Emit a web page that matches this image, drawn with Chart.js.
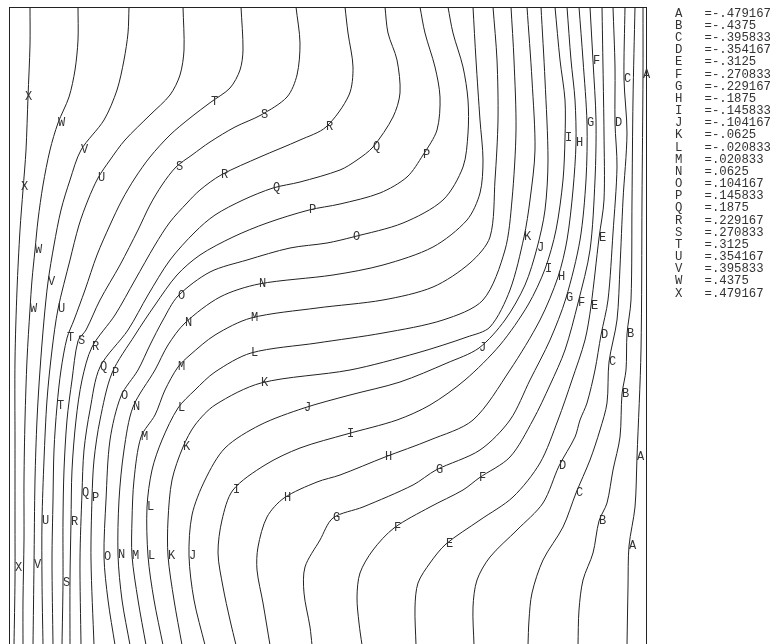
<!DOCTYPE html>
<html>
<head>
<meta charset="utf-8">
<script src="https://cdn.jsdelivr.net/npm/chart.js@4.4.1/dist/chart.umd.min.js"></script>
<style>
  html, body { margin: 0; padding: 0; background: #fff; overflow: hidden; }
  canvas { display: block; }
</style>
</head>
<body>
<canvas id="c" width="776" height="660"></canvas>
<script>
// Contour levels, lowest (A) to highest (X)
const levelLetters = ['A','B','C','D','E','F','G','H','I','J','K','L','M','N','O','P','Q','R','S','T','U','V','W','X'];
const levelValues = [-0.479167, -0.4375, -0.395833, -0.354167, -0.3125, -0.270833, -0.229167, -0.1875,
  -0.145833, -0.104167, -0.0625, -0.020833, 0.020833, 0.0625, 0.104167, 0.145833, 0.1875, 0.229167,
  0.270833, 0.3125, 0.354167, 0.395833, 0.4375, 0.479167];

// Grid extent (both axes), row coordinate grows downward
const gridMax = 63.8;

// Contour paths in grid units [x, y], traced from the top row to the bottom row
const contourA = [[63.4,0],[63.4,6.8],[63.3,19.3],[63.2,34.3],[62.8,45.0],[62.6,50.0],[62.0,53.9],[61.9,58.0],[61.8,63.8]];
const contourB = [[62.6,0],[62.4,9.3],[62.3,19.3],[62.2,29.3],[61.8,32.7],[61.7,36.3],[61.3,38.7],[61.1,43.0],[60.4,46.3],[59.8,49.6],[59.0,51.4],[58.4,54.6],[57.4,57.3],[57.0,60.3],[56.9,63.8]];
const contourC = [[61.6,0],[61.5,7.2],[61.8,12.6],[61.4,19.3],[61.1,26.0],[60.8,31.3],[60.0,35.5],[59.8,39.6],[59.1,42.3],[58.1,45.3],[56.7,48.6],[55.4,52.0],[53.4,55.3],[52.3,58.6],[52.0,61.3],[51.9,63.8]];
const contourD = [[60.4,0],[60.6,6.0],[60.6,11.6],[60.8,16.0],[60.4,22.6],[59.9,29.3],[59.2,32.8],[58.6,36.3],[57.8,39.6],[57.1,41.3],[56.6,43.0],[55.0,45.9],[53.4,49.6],[50.8,52.3],[48.1,55.0],[46.8,57.3],[46.4,60.0],[46.5,63.8]];
const contourE = [[59.3,0],[59.4,6.0],[59.5,12.6],[59.5,19.3],[59.0,23.1],[58.2,29.9],[57.6,33.3],[56.3,37.3],[54.9,41.3],[53.1,45.6],[50.4,49.0],[47.1,51.3],[43.7,53.7],[42.1,55.6],[40.9,57.6],[40.6,60.0],[40.7,63.8]];
const contourF = [[58.1,0],[58.4,5.4],[58.7,11.3],[58.6,17.3],[58.1,24.3],[56.9,29.6],[55.6,34.3],[54.1,37.8],[52.4,41.3],[50.1,45.0],[47.0,47.1],[45.4,48.3],[42.1,50.0],[38.5,52.1],[36.4,54.3],[35.1,56.6],[34.8,59.0],[35.0,61.6],[35.3,63.8]];
const contourG = [[57.0,0],[57.4,5.3],[57.8,11.6],[57.7,17.3],[57.1,23.3],[55.7,29.1],[54.1,33.3],[52.1,37.3],[50.1,41.3],[47.1,44.3],[42.7,46.3],[40.4,47.8],[35.4,50.0],[32.4,51.1],[31.1,53.3],[29.6,56.0],[29.5,58.6],[30.1,62.0],[30.3,63.8]];
const contourH = [[55.8,0],[56.2,5.3],[56.6,9.3],[56.7,13.6],[56.4,18.3],[55.8,23.3],[54.9,27.0],[53.1,31.3],[50.1,36.3],[46.4,41.3],[42.1,43.3],[37.6,45.0],[33.1,46.8],[30.8,47.5],[27.5,49.1],[25.8,51.0],[24.9,54.0],[24.8,56.3],[25.4,59.6],[26.1,63.8]];
const contourI = [[54.6,0],[55.1,5.3],[55.6,9.3],[55.6,13.1],[55.4,17.3],[54.7,22.3],[53.6,26.2],[51.9,29.8],[49.1,33.8],[45.6,37.3],[42.1,39.8],[38.8,41.3],[33.8,42.7],[29.1,44.1],[25.6,45.8],[22.4,48.3],[21.3,51.3],[20.9,54.6],[21.4,58.0],[22.1,61.3],[22.7,63.8]];
const contourJ = [[53.2,0],[53.6,7.3],[53.9,15.3],[53.6,20.3],[52.8,24.1],[51.6,27.8],[49.6,31.3],[47.0,34.1],[43.8,35.6],[39.1,37.5],[34.1,38.8],[29.5,40.1],[25.1,41.8],[21.6,44.1],[19.6,47.3],[18.3,50.8],[18.0,54.9],[18.5,59.3],[19.6,63.8]];
const contourK = [[51.8,0],[52.3,7.3],[52.6,14.3],[52.1,19.3],[51.5,23.0],[50.1,28.3],[48.1,32.0],[45.8,33.0],[40.8,34.6],[34.1,36.3],[25.2,37.6],[20.6,39.8],[18.6,41.8],[17.4,44.0],[16.3,47.3],[15.9,51.3],[15.9,54.9],[16.5,59.3],[17.3,63.8]];
const contourL = [[50.2,0],[50.5,5.3],[50.7,12.3],[50.3,19.3],[49.6,24.3],[47.4,29.3],[43.4,31.3],[37.4,32.6],[30.8,33.6],[24.2,34.6],[20.6,36.5],[18.6,38.3],[16.9,40.1],[15.3,43.3],[14.3,46.3],[13.8,50.0],[13.9,54.9],[14.5,59.3],[15.4,63.8]];
const contourM = [[48.4,0],[48.8,5.3],[48.9,11.3],[48.6,17.3],[48.1,23.0],[46.1,25.6],[42.4,28.0],[37.4,29.3],[30.8,30.1],[24.2,31.1],[20.6,32.8],[18.1,34.8],[16.9,36.0],[15.6,38.3],[14.6,40.8],[13.2,43.0],[12.5,47.3],[12.3,51.3],[12.3,54.9],[12.9,59.3],[13.7,63.8]];
const contourN = [[46.4,0],[46.7,5.3],[47.1,11.3],[47.4,15.3],[47.1,18.6],[45.8,21.3],[42.4,24.0],[37.4,25.8],[32.4,26.8],[25.0,27.7],[21.1,29.0],[17.6,31.6],[15.9,33.8],[14.6,36.3],[12.4,40.0],[11.5,44.3],[11.0,49.3],[10.9,54.8],[11.3,59.3],[12.1,63.8]];
const contourO = [[43.9,0],[44.4,2.6],[45.4,6.0],[45.9,9.3],[45.9,12.6],[45.4,16.0],[43.4,19.3],[39.4,21.6],[34.4,23.0],[31.8,23.6],[28.1,24.1],[23.8,25.3],[20.1,26.5],[16.9,28.9],[15.4,31.3],[14.1,33.8],[12.9,36.3],[11.2,38.9],[10.1,43.3],[9.7,49.3],[9.5,55.0],[9.9,59.3],[10.6,63.8]];
const contourP = [[41.1,0],[41.6,2.6],[42.6,6.0],[43.1,9.0],[42.8,12.3],[41.4,14.8],[39.8,17.0],[37.1,18.6],[33.1,19.7],[30.0,20.3],[25.8,21.6],[22.4,23.0],[19.1,24.8],[16.8,26.8],[14.6,29.8],[12.6,32.8],[10.3,36.6],[9.1,41.3],[8.5,45.3],[8.3,49.1],[8.2,55.3],[8.5,63.8]];
const contourQ = [[37.6,0],[37.9,2.6],[38.8,5.3],[39.1,8.6],[38.4,11.0],[36.4,14.0],[34.8,15.3],[33.1,16.3],[29.1,17.5],[26.4,18.1],[23.4,19.3],[20.6,20.8],[18.6,22.5],[16.1,25.3],[13.9,28.8],[11.9,32.3],[9.1,36.0],[8.1,40.3],[7.5,44.3],[7.3,48.6],[7.1,55.3],[7.2,63.8]];
const contourR = [[33.6,0],[33.9,2.6],[34.4,6.0],[34.0,8.8],[31.7,12.0],[29.1,13.3],[25.1,15.0],[21.2,16.8],[19.1,18.3],[17.8,19.6],[16.1,21.5],[14.6,23.8],[12.6,27.3],[10.6,30.8],[8.3,34.0],[7.3,37.3],[6.7,41.3],[6.3,46.3],[6.2,51.5],[6.1,57.3],[6.1,63.8]];
const contourS = [[28.7,0],[29.1,3.6],[28.8,6.8],[27.8,9.0],[25.2,10.8],[22.6,12.0],[20.1,13.5],[18.3,14.8],[16.7,16.0],[15.3,17.8],[14.1,19.8],[12.9,22.3],[11.1,25.8],[9.1,29.3],[7.7,32.3],[6.9,33.4],[6.3,37.3],[5.8,41.3],[5.5,46.3],[5.4,51.3],[5.4,57.6],[5.3,63.8]];
const contourT = [[23.2,0],[23.4,4.3],[23.1,6.3],[22.1,8.1],[20.2,9.5],[18.1,11.1],[16.1,12.8],[14.1,15.0],[12.6,17.1],[11.3,19.3],[10.1,21.8],[8.8,24.8],[7.6,28.3],[6.5,31.3],[5.8,33.1],[5.2,36.3],[4.8,39.9],[4.5,44.3],[4.4,49.3],[4.3,55.3],[4.4,63.8]];
const contourU = [[17.4,0],[17.5,4.3],[17.1,6.8],[16.1,8.8],[14.1,10.8],[11.6,13.3],[10.1,15.3],[8.9,17.1],[7.9,19.3],[7.0,21.8],[6.1,25.3],[4.9,30.2],[4.3,34.3],[3.8,39.3],[3.5,45.3],[3.3,51.4],[3.3,57.3],[3.4,63.8]];
const contourV = [[12.0,0],[11.9,2.6],[11.5,5.3],[10.8,8.3],[9.5,11.3],[7.2,14.3],[6.1,17.3],[5.2,20.3],[4.5,23.8],[3.9,27.5],[3.5,31.3],[3.1,36.3],[2.8,41.3],[2.6,47.3],[2.5,55.8],[2.4,63.8]];
const contourW = [[6.9,0],[6.9,3.3],[6.6,6.3],[6.0,9.0],[4.9,11.6],[4.1,14.3],[3.4,17.8],[2.9,21.3],[2.6,24.3],[2.3,27.3],[2.1,30.2],[1.8,35.3],[1.6,41.3],[1.5,47.3],[1.5,53.3],[1.4,59.3],[1.4,63.8]];
const contourX = [[2.1,0],[2.1,3.8],[1.9,9.0],[1.7,14.3],[1.4,18.3],[1.1,22.3],[0.8,28.3],[0.6,35.3],[0.6,43.3],[0.6,51.3],[0.6,57.3],[0.5,63.8]];

// Where each level's letter is written along its contour [letter, x, y]
const labelSpots = [
  ['X',1.6,9.0],['X',1.2,18.0],['X',0.6,56.1],
  ['W',4.9,11.6],['W',2.6,24.3],['W',2.1,30.2],
  ['V',7.2,14.3],['V',3.9,27.5],['V',2.5,55.8],
  ['U',8.9,17.1],['U',4.9,30.2],['U',3.3,51.4],
  ['T',20.2,9.5],['T',5.8,33.1],['T',4.8,39.9],
  ['S',25.2,10.8],['S',16.7,16.0],['S',6.9,33.4],['S',5.4,57.6],
  ['R',31.7,12.0],['R',21.2,16.8],['R',8.3,34.0],['R',6.2,51.5],
  ['Q',36.4,14.0],['Q',26.4,18.1],['Q',9.1,36.0],['Q',7.3,48.6],
  ['P',41.4,14.8],['P',30.0,20.3],['P',10.3,36.6],['P',8.3,49.1],
  ['O',34.4,23.0],['O',16.9,28.9],['O',11.2,38.9],['O',9.5,55.0],
  ['N',25.0,27.7],['N',17.6,31.6],['N',12.4,40.0],['N',10.9,54.8],
  ['M',24.2,31.1],['M',16.9,36.0],['M',13.2,43.0],['M',12.3,54.9],
  ['L',24.2,34.6],['L',16.9,40.1],['L',13.8,50.0],['L',13.9,54.9],
  ['K',51.5,23.0],['K',25.2,37.6],['K',17.4,44.0],['K',15.9,54.9],
  ['J',52.8,24.1],['J',47.0,34.1],['J',29.5,40.1],['J',18.0,54.9],
  ['I',55.6,13.1],['I',53.6,26.2],['I',33.8,42.7],['I',22.4,48.3],
  ['H',56.7,13.6],['H',54.9,27.0],['H',37.6,45.0],['H',27.5,49.1],
  ['G',57.8,11.6],['G',55.7,29.1],['G',42.7,46.3],['G',32.4,51.1],
  ['F',58.4,5.4],['F',56.9,29.6],['F',47.0,47.1],['F',38.5,52.1],
  ['E',59.0,23.1],['E',58.2,29.9],['E',43.7,53.7],
  ['D',60.6,11.6],['D',59.2,32.8],['D',55.0,45.9],
  ['C',61.5,7.2],['C',60.0,35.5],['C',56.7,48.6],
  ['B',61.8,32.7],['B',61.3,38.7],['B',59.0,51.4],
  ['A',63.4,6.8],['A',62.8,45.0],['A',62.0,53.9]
];

const contours = [contourA, contourB, contourC, contourD, contourE, contourF, contourG, contourH,
  contourI, contourJ, contourK, contourL, contourM, contourN, contourO, contourP, contourQ, contourR,
  contourS, contourT, contourU, contourV, contourW, contourX];

const FONT = '"Liberation Mono", "DejaVu Sans Mono", monospace';

function fmtLevel(v) {
  const s = Math.abs(v).toString().replace(/^0/, '');
  return (v < 0 ? '-' : '') + s;
}

const datasets = contours.map((path, i) => ({
  label: levelLetters[i],
  data: path.map(p => ({ x: p[0], y: p[1] })),
  showLine: true,
  borderColor: '#222',
  borderWidth: 1,
  pointRadius: 0,
  tension: 0.3,
  fill: false
}));

// Frame, contour letters and the level key
const decorations = {
  id: 'decorations',
  afterDatasetsDraw(chart) {
    const { ctx, chartArea: a, scales } = chart;
    ctx.save();
    ctx.strokeStyle = '#222';
    ctx.lineWidth = 1;
    ctx.strokeRect(a.left + 0.5, a.top + 0.5, a.right - a.left - 1, a.bottom - a.top - 1);

    ctx.fillStyle = '#333';
    ctx.font = '12px ' + FONT;
    ctx.textAlign = 'left';
    ctx.textBaseline = 'middle';
    labelSpots.forEach(([ch, x, y]) => {
      ctx.fillText(ch, scales.x.getPixelForValue(x), scales.y.getPixelForValue(y));
    });

    ctx.font = '12.3px ' + FONT;
    const keyLeft = a.right + 28;
    levelLetters.forEach((ch, i) => {
      const y = a.top + 6.5 + i * 12.17;
      ctx.fillText(ch + '   =' + fmtLevel(levelValues[i]), keyLeft, y);
    });
    ctx.restore();
  }
};

new Chart(document.getElementById('c'), {
  type: 'scatter',
  data: { datasets },
  options: {
    responsive: false,
    animation: false,
    devicePixelRatio: 1,
    layout: { padding: { left: 9, top: 7, right: 129, bottom: 15 } },
    plugins: { legend: { display: false }, tooltip: { enabled: false } },
    scales: {
      x: { type: 'linear', min: 0, max: gridMax, display: false },
      y: { type: 'linear', min: 0, max: gridMax, reverse: true, display: false }
    }
  },
  plugins: [decorations]
});
</script>
</body>
</html>
